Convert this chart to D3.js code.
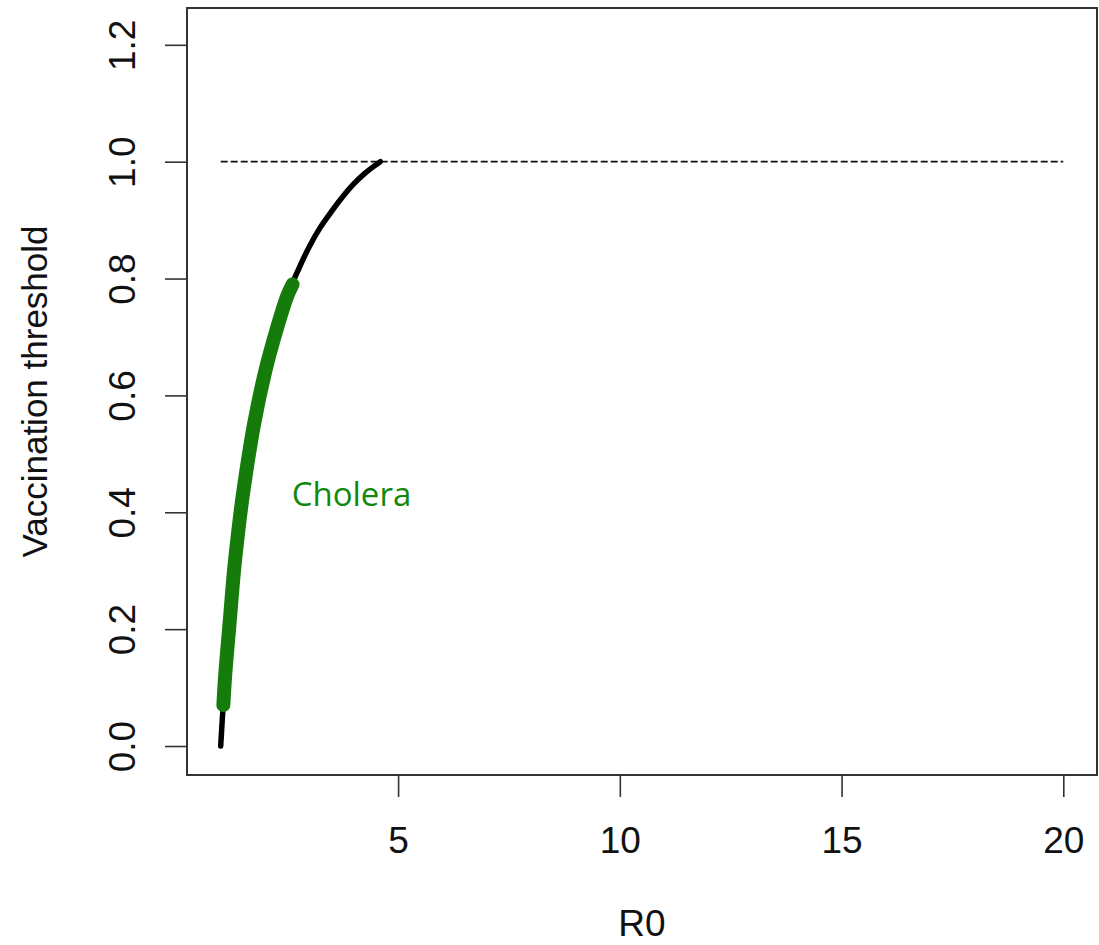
<!DOCTYPE html>
<html>
<head>
<meta charset="utf-8">
<script src="https://cdn.jsdelivr.net/npm/d3@7"></script>
<style>
  body { margin: 0; background: #fff; }
  text { font-family: "Liberation Sans", Arial, sans-serif; fill: #111; }
</style>
</head>
<body>
<svg class="chart"></svg>
<script>
// values
var r0Values = [1.0, 1.1, 1.2, 1.3, 1.4, 1.5, 1.75, 2.0, 2.25, 2.5, 2.75, 3.0, 3.25, 3.5, 3.75, 4.0, 4.25, 4.45, 4.6];
var thresholdValues = [0, 0.12, 0.21, 0.30, 0.37, 0.43, 0.55, 0.64, 0.71, 0.77, 0.815, 0.855, 0.888, 0.915, 0.94, 0.962, 0.98, 0.992, 1.0];

var choleraR0 = [1.06, 1.1, 1.2, 1.3, 1.4, 1.5, 1.75, 2.0, 2.25, 2.5, 2.62];
var choleraThreshold = [0.07, 0.12, 0.21, 0.30, 0.37, 0.43, 0.55, 0.64, 0.71, 0.77, 0.79];

var refLineR0 = [1, 20];
var refLineValue = [1.0, 1.0];

var xTicks = [5, 10, 15, 20];
var yTicks = [0.0, 0.2, 0.4, 0.6, 0.8, 1.0, 1.2];

//set up chart
var width = 1099;
var height = 945;
var box = {left: 187, right: 1097, top: 8, bottom: 775};

var svg = d3.select(".chart")
    .attr("width", width)
    .attr("height", height);

var xChart = d3.scaleLinear()
    .domain([0.24, 20.76])
    .range([box.left, box.right]);

var yChart = d3.scaleLinear()
    .domain([-0.0496, 1.263])
    .range([box.bottom, box.top]);

var line = d3.line()
    .x(function(d){ return xChart(d[0]); })
    .y(function(d){ return yChart(d[1]); })
    .curve(d3.curveCatmullRom);

//dashed reference line at 1.0
svg.append("path")
    .datum(d3.zip(refLineR0, refLineValue))
    .attr("d", line)
    .attr("fill", "none")
    .attr("stroke", "#111")
    .attr("stroke-width", 1.8)
    .attr("stroke-dasharray", "7,3");

//black threshold curve
svg.append("path")
    .datum(d3.zip(r0Values, thresholdValues))
    .attr("d", line)
    .attr("fill", "none")
    .attr("stroke", "#000")
    .attr("stroke-width", 5.5)
    .attr("stroke-linecap", "round");

//cholera segment
svg.append("path")
    .datum(d3.zip(choleraR0, choleraThreshold))
    .attr("d", line)
    .attr("fill", "none")
    .attr("stroke", "#157c0b")
    .attr("stroke-width", 14)
    .attr("stroke-linecap", "round");

svg.append("text")
    .attr("x", xChart(2.6))
    .attr("y", yChart(0.41))
    .style("font-family", "'Open Sans', 'Noto Sans', sans-serif")
    .style("font-size", "33px")
    .style("fill", "#12880e")
    .text("Cholera");

//box
svg.append("rect")
    .attr("x", box.left)
    .attr("y", box.top)
    .attr("width", box.right - box.left)
    .attr("height", box.bottom - box.top)
    .attr("fill", "none")
    .attr("stroke", "#333")
    .attr("stroke-width", 2);

//bottom axis
var xAxis = d3.axisBottom(xChart)
    .tickValues(xTicks)
    .tickSize(22)
    .tickPadding(0)
    .tickFormat(d3.format("d"));

var gx = svg.append("g")
    .attr("transform", "translate(0," + box.bottom + ")")
    .call(xAxis);
gx.select(".domain")
    .attr("d", "M" + xChart(5) + ",0H" + xChart(20))
    .attr("stroke", "#333")
    .attr("stroke-width", 2);
gx.selectAll(".tick line").attr("stroke", "#333").attr("stroke-width", 1.6);
gx.selectAll(".tick text")
    .attr("y", 78)
    .attr("dy", null)
    .style("font-size", "37px")
    .style("font-family", "'Liberation Sans', Arial, sans-serif")
    .style("fill", "#111");

//left axis
var yAxis = d3.axisLeft(yChart)
    .tickValues(yTicks)
    .tickSize(22)
    .tickFormat(d3.format(".1f"));

var gy = svg.append("g")
    .attr("transform", "translate(" + box.left + ",0)")
    .call(yAxis);
gy.select(".domain")
    .attr("d", "M0," + yChart(0) + "V" + yChart(1.2))
    .attr("stroke", "#333")
    .attr("stroke-width", 2);
gy.selectAll(".tick line").attr("stroke", "#333").attr("stroke-width", 1.6);
gy.selectAll(".tick text")
    .attr("x", null)
    .attr("dy", null)
    .attr("transform", "translate(-52,0) rotate(-90)")
    .style("text-anchor", "middle")
    .style("font-size", "37px")
    .style("font-family", "'Liberation Sans', Arial, sans-serif")
    .style("fill", "#111");

//add labels
svg.append("text")
    .attr("transform", "translate(47," + ((box.top + box.bottom) / 2) + ") rotate(-90)")
    .style("text-anchor", "middle")
    .style("font-size", "35px")
    .text("Vaccination threshold");

svg.append("text")
    .attr("x", (box.left + box.right) / 2)
    .attr("y", 936)
    .style("text-anchor", "middle")
    .style("font-size", "37px")
    .text("R0");
</script>
</body>
</html>
